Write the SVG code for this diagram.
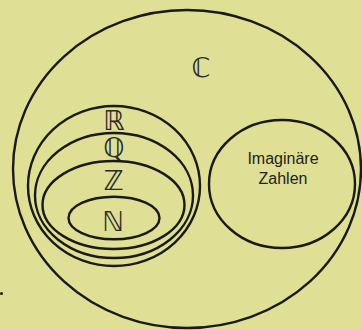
<svg xmlns="http://www.w3.org/2000/svg" width="362" height="330" viewBox="0 0 362 330">
<style>
.set{fill:none;stroke:#1a1a1a;stroke-width:2.4}
.sym{font-family:"DejaVu Sans",sans-serif;font-size:27px;fill:#2a2a2a;text-anchor:middle}
.lbl{font-family:"Liberation Sans",Arial,sans-serif;font-size:16px;fill:#222;text-anchor:middle}
</style>
<rect x="0" y="0" width="362" height="330" fill="#dfdf96"/>
<g id="C"><ellipse class="set" cx="187" cy="169" rx="174" ry="159"/><text class="sym" x="201" y="77">ℂ</text></g>
<g id="R"><ellipse class="set" cx="114" cy="186" rx="86" ry="80"/><text class="sym" x="114" y="130">ℝ</text></g>
<g id="Q"><ellipse class="set" cx="114" cy="195.5" rx="79" ry="62.5"/><text class="sym" x="114" y="157">ℚ</text></g>
<g id="Z"><ellipse class="set" cx="113.5" cy="205" rx="71" ry="44"/><text class="sym" x="113.5" y="190">ℤ</text></g>
<g id="N"><ellipse class="set" cx="114" cy="218" rx="45.5" ry="21.3"/><text class="sym" x="113" y="231">ℕ</text></g>
<g id="I"><ellipse class="set" cx="282" cy="184" rx="73" ry="64"/><text class="lbl" x="283" y="164">Imaginäre</text><text class="lbl" x="283" y="184">Zahlen</text></g>
<g id="connectors"></g>
<circle cx="1.5" cy="293.5" r="1.5" fill="#1a1a1a"/>
</svg>
